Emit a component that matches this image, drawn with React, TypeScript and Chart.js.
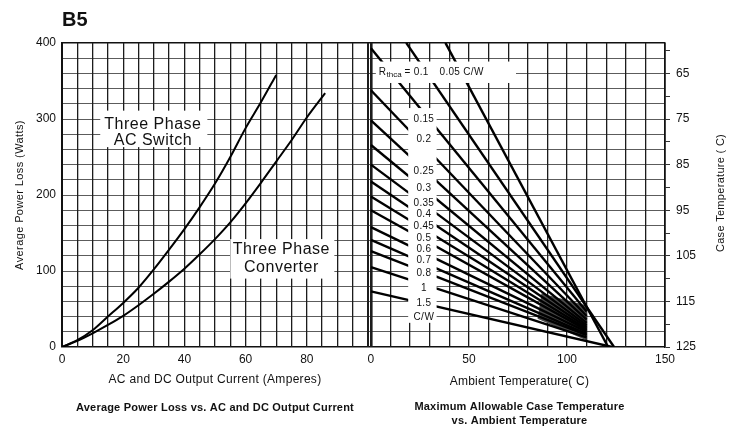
import React, { useEffect, useRef } from 'react';
import { Chart, registerables } from 'chart.js';

Chart.register(...registerables);

const FONT = '"Liberation Sans", Arial, Helvetica, sans-serif';
const INK = '#111111';

// ---------- Left panel: Average Power Loss vs. Output Current ----------
const currentAC = [0, 5, 10, 15, 20, 25, 30, 35, 40, 45, 50, 55, 60, 65, 70];
const lossAC = [0, 9, 22, 40, 58, 78, 102, 128, 155, 184, 215, 250, 288, 322, 358];
const currentConv = [0, 5, 10, 15, 20, 25, 30, 35, 40, 45, 50, 55, 60, 65, 70, 75, 80, 86];
const lossConv = [0, 8, 18, 29, 41, 55, 70, 86, 103, 122, 142, 164, 189, 216, 244, 272, 302, 334];

const powerTicks = [0, 20, 40, 60, 80, 100, 120, 140, 160, 180, 200, 220, 240, 260, 280, 300, 320, 340, 360, 380, 400];
const powerLabels = [0, 100, 200, 300, 400];
const currentTicks = [0, 5, 10, 15, 20, 25, 30, 35, 40, 45, 50, 55, 60, 65, 70, 75, 80, 85, 90, 95, 100];
const currentLabels = [0, 20, 40, 60, 80];

// ---------- Right panel: Max allowable case temperature vs. ambient ----------
const rthLabels = ['0.05', '0.1', '0.15', '0.2', '0.25', '0.3', '0.35', '0.4', '0.45', '0.5', '0.6', '0.7', '0.8', '1', '1.5'];
const lineStartTa = [38, 18, 0, 0, 0, 0, 0, 0, 0, 0, 0, 0, 0, 0, 0];
const lineStartTc = [58.3, 58.3, 59.5, 68.7, 75.3, 80.7, 85, 88.7, 92, 95, 98.7, 101.5, 104, 107.5, 112.8];
const lineEndTa = [121, 124, 110, 110, 110, 110, 110, 110, 110, 110, 110, 110, 110, 110, 123];
const lineEndTc = [125, 125, 117.2, 118.2, 119, 119.7, 120.2, 120.6, 121, 121.3, 121.7, 122.1, 122.4, 122.9, 125];
// label positions of the C/W values (case temperature where each label sits)
const rthLabelTc = [75.0, 79.4, 86.4, 90.1, 93.4, 95.8, 98.5, 101.1, 103.5, 105.9, 108.8, 112.1, 115.4];
const rthLabelText = ['0.15', '0.2', '0.25', '0.3', '0.35', '0.4', '0.45', '0.5', '0.6', '0.7', '0.8', '1', '1.5'];

const shadeTa = [87, 110, 110, 85];
const shadeTc = [113.2, 115.9, 123.6, 118.8];

const ambientTicks = [0, 10, 20, 30, 40, 50, 60, 70, 80, 90, 100, 110, 120, 130, 140, 150];
const ambientLabels = [0, 50, 100, 150];
const caseTicks = [60, 65, 70, 75, 80, 85, 90, 95, 100, 105, 110, 115, 120, 125];
const caseLabels = [65, 75, 85, 95, 105, 115, 125];

// label boxes (data coordinates)
const acBox = { x0: 12.5, x1: 47.5, y0: 263, y1: 311 };
const convBox = { x0: 55, x1: 89, y0: 90, y1: 142 };
const rthTopBox = { x0: 2.5, x1: 74, y0: 62.4, y1: 67.1 };
const rthSideBox = { x0: 19, x1: 33.5, y0: 72.6, y1: 119.7 };

function drawText(ctx: CanvasRenderingContext2D, s: string, x: number, y: number, font: string, align: CanvasTextAlign = 'center', spacing = 0, base: CanvasTextBaseline = 'middle') {
  ctx.font = font;
  ctx.textAlign = align;
  ctx.textBaseline = base;
  (ctx as any).letterSpacing = spacing + 'px';
  ctx.fillStyle = INK;
  ctx.fillText(s, x, y);
  (ctx as any).letterSpacing = '0px';
}

function fillBox(ctx: CanvasRenderingContext2D, sx: any, sy: any, b: { x0: number; x1: number; y0: number; y1: number }) {
  const a = sx.getPixelForValue(b.x0);
  const c = sx.getPixelForValue(b.x1);
  const d = sy.getPixelForValue(b.y0);
  const e = sy.getPixelForValue(b.y1);
  ctx.fillStyle = '#ffffff';
  ctx.fillRect(Math.min(a, c), Math.min(d, e), Math.abs(c - a), Math.abs(e - d));
}

const overlayPlugin = {
  id: 'overlay',
  afterDatasetsDraw(chart: any) {
    const { ctx, scales } = chart;
    const { xL, xR, y, yT } = scales;
    ctx.save();
    fillBox(ctx, xL, y, acBox);
    fillBox(ctx, xL, y, convBox);
    fillBox(ctx, xR, yT, rthTopBox);
    fillBox(ctx, xR, yT, rthSideBox);

    const big = `16px ${FONT}`;
    const acX = xL.getPixelForValue(29.7);
    drawText(ctx, 'Three Phase', acX, y.getPixelForValue(292), big, 'center', 0.5);
    drawText(ctx, 'AC Switch', acX, y.getPixelForValue(271), big, 'center', 0.5);
    const cvX = xL.getPixelForValue(71.7);
    drawText(ctx, 'Three Phase', cvX, y.getPixelForValue(127.6), big, 'center', 0.5);
    drawText(ctx, 'Converter', cvX, y.getPixelForValue(105), big, 'center', 0.5);

    const small = `10px ${FONT}`;
    const lx = xR.getPixelForValue(27);
    rthLabelText.forEach((t, i) => {
      drawText(ctx, t, lx, yT.getPixelForValue(rthLabelTc[i]), small, 'center', 0.3);
    });
    drawText(ctx, 'C/W', lx, yT.getPixelForValue(118.4), small, 'center', 0.5);

    // R_thca = 0.1  0.05 C/W
    const ty = yT.getPixelForValue(64.8);
    let tx = xR.getPixelForValue(4);
    drawText(ctx, 'R', tx, ty, small, 'left');
    ctx.font = small;
    tx += ctx.measureText('R').width + 0.5;
    drawText(ctx, 'thca', tx, ty + 2, `8px ${FONT}`, 'left');
    ctx.font = `8px ${FONT}`;
    tx += ctx.measureText('thca').width + 3;
    drawText(ctx, '= 0.1', tx, ty, small, 'left', 0.3);
    drawText(ctx, '0.05 C/W', xR.getPixelForValue(35), ty, small, 'left', 0.3);
    ctx.restore();
  },
  afterDraw(chart: any) {
    const { ctx, scales, chartArea } = chart;
    const { xL, xR } = scales;
    ctx.save();
    drawText(ctx, 'B5', chartArea.left, 26, `bold 20px ${FONT}`, 'left', 0, 'alphabetic');
    const midY = (chartArea.top + chartArea.bottom) / 2;
    // left axis title
    ctx.save();
    ctx.translate(20, midY);
    ctx.rotate(-Math.PI / 2);
    drawText(ctx, 'Average Power Loss (Watts)', 0, 0, `11px ${FONT}`, 'center', 0.4);
    ctx.restore();
    // right axis title
    ctx.save();
    ctx.translate(721, midY - 2);
    ctx.rotate(-Math.PI / 2);
    drawText(ctx, 'Case Temperature ( C)', 0, 0, `11px ${FONT}`, 'center', 0.3);
    ctx.restore();

    const lc = (xL.left + xL.right) / 2;
    const rc = (xR.left + xR.right) / 2 + 3;
    drawText(ctx, 'AC and DC Output Current (Amperes)', lc, 380, `12px ${FONT}`, 'center', 0.3);
    drawText(ctx, 'Average Power Loss vs. AC and DC Output Current', lc, 408, `bold 11px ${FONT}`, 'center', 0.2);
    drawText(ctx, 'Ambient Temperature( C)', rc, 382, `12px ${FONT}`, 'center', 0.2);
    drawText(ctx, 'Maximum Allowable Case Temperature', rc, 407, `bold 11px ${FONT}`, 'center', 0.2);
    drawText(ctx, 'vs. Ambient Temperature', rc, 421, `bold 11px ${FONT}`, 'center', 0.2);
    ctx.restore();
  },
};

const tickFont = { family: FONT, size: 12 };

export default function App() {
  const ref = useRef<HTMLCanvasElement | null>(null);

  useEffect(() => {
    if (!ref.current) return;
    const datasets: any[] = [];
    datasets.push({
      label: 'Three Phase AC Switch',
      data: currentAC.map((x, i) => ({ x, y: lossAC[i] })),
      xAxisID: 'xL', yAxisID: 'y',
      borderColor: '#000', borderWidth: 2, pointRadius: 0, cubicInterpolationMode: 'monotone', fill: false,
    });
    datasets.push({
      label: 'Three Phase Converter',
      data: currentConv.map((x, i) => ({ x, y: lossConv[i] })),
      xAxisID: 'xL', yAxisID: 'y',
      borderColor: '#000', borderWidth: 2, pointRadius: 0, cubicInterpolationMode: 'monotone', fill: false,
    });
    rthLabels.forEach((r, i) => {
      datasets.push({
        label: 'Rthca ' + r,
        data: [
          { x: lineStartTa[i], y: lineStartTc[i] },
          { x: lineEndTa[i], y: lineEndTc[i] },
        ],
        xAxisID: 'xR', yAxisID: 'yT',
        borderColor: '#000', borderWidth: 2.4, pointRadius: 0, tension: 0, fill: false,
      });
    });
    datasets.push({
      label: 'shade',
      data: shadeTa.map((x, i) => ({ x, y: shadeTc[i] })),
      xAxisID: 'xR', yAxisID: 'yT',
      borderWidth: 0, borderColor: 'rgba(0,0,0,0)', backgroundColor: '#4a4a4a',
      pointRadius: 0, tension: 0, fill: 'shape',
    });

    const chart = new Chart(ref.current, {
      type: 'scatter',
      data: { datasets },
      options: {
        animation: false,
        responsive: false,
        events: [],
        showLine: true,
        layout: { padding: { top: 43, left: 0, right: 0, bottom: 0 } },
        plugins: { legend: { display: false }, tooltip: { enabled: false }, title: { display: false } },
        scales: {
          y: {
            type: 'linear', position: 'left', min: 0, max: 400,
            afterBuildTicks: (s: any) => { s.ticks = powerTicks.map((v) => ({ value: v })); },
            afterFit: (s: any) => { s.width = 62; },
            grid: {
              drawTicks: false,
              color: (c: any) => (c.tick && (c.tick.value === 0 || c.tick.value === 400) ? '#111' : '#5c5c5c'),
              lineWidth: (c: any) => (c.tick && (c.tick.value === 0 || c.tick.value === 400) ? 1.5 : 1),
            },
            border: { display: true, color: '#111', width: 2 },
            ticks: {
              autoSkip: false, padding: 6, font: tickFont, color: INK,
              callback: (v: any) => (powerLabels.includes(Number(v)) ? String(v) : ''),
            },
          },
          yT: {
            type: 'linear', position: 'right', min: 58.333, max: 125, reverse: true,
            afterBuildTicks: (s: any) => { s.ticks = caseTicks.map((v) => ({ value: v })); },
            afterFit: (s: any) => { s.width = 73; },
            grid: { drawOnChartArea: false, drawTicks: true, tickLength: 5, color: '#333', lineWidth: 1 },
            border: { display: true, color: '#111', width: 1.5 },
            ticks: {
              autoSkip: false, padding: 6, font: tickFont, color: INK,
              callback: (v: any) => (caseLabels.includes(Number(v)) ? String(v) : ''),
            },
          },
          xL: {
            type: 'linear', position: 'bottom', stack: 'bottomPanels', stackWeight: 306, min: 0, max: 100,
            afterBuildTicks: (s: any) => { s.ticks = currentTicks.map((v) => ({ value: v })); },
            afterFit: (s: any) => { s.height = 81; },
            grid: {
              drawTicks: false, color: '#1c1c1c',
              lineWidth: (c: any) => (c.tick && c.tick.value === 100 ? 2 : 1.3),
            },
            border: { display: false },
            ticks: {
              autoSkip: false, maxRotation: 0, padding: 5, font: tickFont, color: INK,
              callback: (v: any) => (currentLabels.includes(Number(v)) ? String(v) : ''),
            },
          },
          xR: {
            type: 'linear', position: 'bottom', stack: 'bottomPanels', stackWeight: 297, min: -1.5, max: 150,
            afterBuildTicks: (s: any) => { s.ticks = ambientTicks.map((v) => ({ value: v })); },
            afterFit: (s: any) => { s.height = 81; },
            grid: {
              drawTicks: false, color: '#1c1c1c',
              lineWidth: (c: any) => (c.tick && c.tick.value === 0 ? 2.6 : c.tick && c.tick.value === 150 ? 1.6 : 1.3),
            },
            border: { display: false },
            ticks: {
              autoSkip: false, maxRotation: 0, padding: 5, font: tickFont, color: INK,
              callback: (v: any) => (ambientLabels.includes(Number(v)) ? String(v) : ''),
            },
          },
        },
      } as any,
      plugins: [overlayPlugin],
    });
    return () => chart.destroy();
  }, []);

  return (
    <div style={{ position: 'fixed', left: 0, top: 0, width: 738, height: 428, background: '#fff' }}>
      <canvas ref={ref} width={738} height={428} style={{ display: 'block' }} />
    </div>
  );
}
